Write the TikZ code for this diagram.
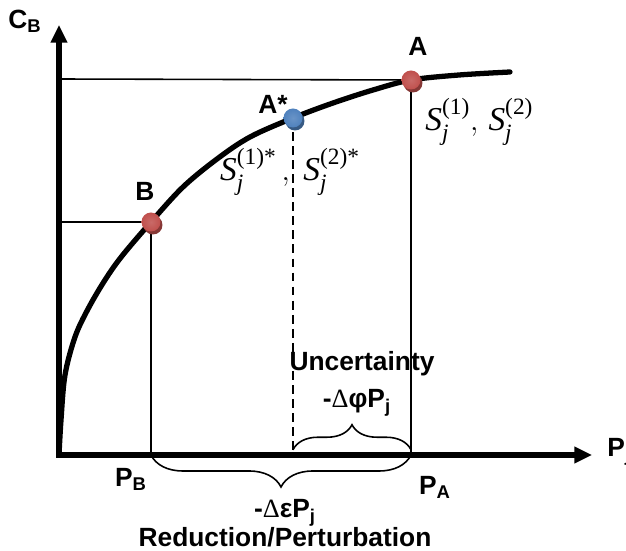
\documentclass[tikz,border=0pt]{standalone}
\usepackage{amsmath}
\usepackage{fontspec}
\setmainfont{Liberation Sans}
\newfontfamily\grk{Liberation Serif}
\usepackage{tikz}
\usetikzlibrary{arrows.meta, decorations.pathreplacing}
\definecolor{ptred}{RGB}{192,80,77}
\definecolor{ptblue}{RGB}{79,129,189}
\newcommand\sol[2]{\text{\grk\itshape S}_{\text{\grk\itshape #1}}^{\text{\grk #2}}}

\begin{document}
\begin{tikzpicture}[x=0.02cm, y=0.02cm,
  lbl/.style={font=\fontsize{15}{17}\selectfont\bfseries, inner sep=0pt},
  sols/.style={font=\fontsize{19}{21}\selectfont, inner sep=0pt},
  axis/.style={line width=3.1pt, line join=miter, {Triangle[length=10pt,width=9pt]}-{Triangle[length=10pt,width=9pt]}},
  guide/.style={line width=0.9pt},
  brc/.style={line width=0.9pt, decorate, decoration={brace, amplitude=#1}}]
 \useasboundingbox (-59,-96) rectangle (567,455);
 % points on the curve and their feet on the axes
 \coordinate (O) at (0,0);
 \coordinate (A) at (352,375);
 \coordinate (As) at (234,337);
 \coordinate (B) at (92,233);
 \coordinate (yA) at (0,376);
 \coordinate (yB) at (0,233);
 \coordinate (xA) at (352,0);
 \coordinate (xAs) at (234,0);
 \coordinate (xB) at (92,0);
 \coordinate (ytop) at (0,430);
 \coordinate (xend) at (533,0);
 \draw[guide] (yA) -- (A) -- (xA);
 \draw[guide] (yB) -- (B) -- (xB);
 \draw[guide, dashed, dash pattern=on 5pt off 3pt] (As) -- (xAs);
 \draw[axis] (ytop) -- (O) -- (xend);
 \draw[line width=3pt, line cap=round] plot[smooth, tension=0.55] coordinates {(0,0) (2,35) (6,80) (16,118) (29,146) (46,175) (63,199) (B) (124,268) (158,296) (191,318) (As) (274,352) (314,365) (A) (400,380) (451,383)};
 % braces
 \draw[brc=0.5cm] ([yshift=3]xAs) -- ([yshift=3]xA);
 \draw[brc=0.64cm, decoration={mirror}] (xB) -- (xA);
 % dots
 \foreach \p/\c in {A/ptred, As/ptblue, B/ptred}{
   \fill[\c!70!black] ([shift={(2,-3)}]\p) circle (0.19cm);
   \shade[inner color=\c!85!white, outer color=\c] (\p) circle (0.19cm);
 }
 % labels
 \node[lbl] (cb) at (-34,434) {C\textsubscript{B}};
 \node[lbl, anchor=base west] (pj) at (548,-2) {P\textsubscript{j}};
 \node[lbl] (la) at (359,409) {A};
 \node[lbl] (las) at (214,351) {A*};
 \node[lbl] (lb) at (86,264) {B};
 \node[lbl] (pb) at (72,-24) {P\textsubscript{B}};
 \node[lbl] (pa) at (376,-32) {P\textsubscript{A}};
 \node[lbl] (unc) at (303,91) {Uncertainty};
 \node[lbl] (dphi) at (298,52) {-{\grk\mdseries Δ}φP\textsubscript{j}};
 \node[lbl] (deps) at (226,-58) {-{\grk\mdseries Δ}εP\textsubscript{j}};
 \node[lbl] (red) at (226,-82) {Reduction/Perturbation};
 \node[sols, anchor=west] (sa) at (366,333) {$\sol{j}{(1)},\,\sol{j}{(2)}$};
 \node[sols] (sas) at (231,283) {$\sol{j}{(1)*}\,,\;\sol{j}{(2)*}$};
\end{tikzpicture}
\end{document}
